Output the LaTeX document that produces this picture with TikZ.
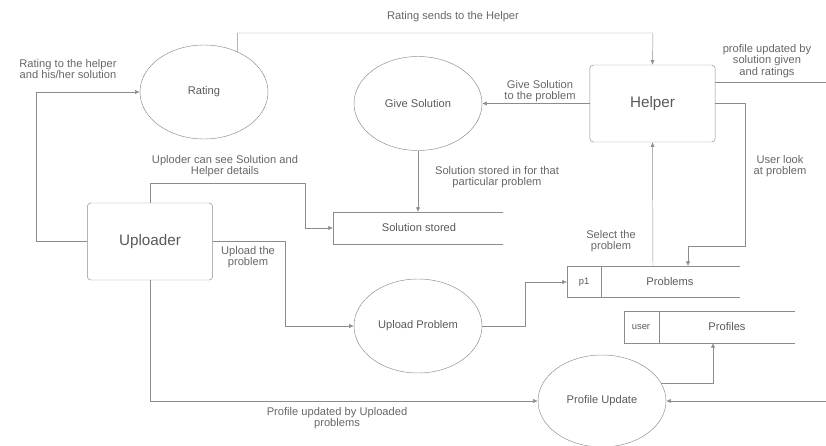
\documentclass[tikz,border=0pt]{standalone}
\usepackage{fontspec}
\setmainfont{Liberation Sans}
\usetikzlibrary{shapes.geometric,arrows.meta}
\tikzset{
	proc/.style={ellipse, draw=black!45, inner sep=0pt, minimum width=3.84cm, minimum height=2.82cm, font=\fontsize{9.5}{10}\selectfont, text=black!65},
	entity/.style={rectangle, rounded corners=3pt, draw=black!45, minimum width=3.76cm, minimum height=2.31cm, font=\fontsize{13}{13}\selectfont, text=black!65},
	flow/.style={draw=black!45, -{Latex[length=4pt,width=3.5pt]}},
	wire/.style={draw=black!45},
	lbl/.style={align=center, font=\fontsize{9.5}{9.5}\selectfont, text=black!60, inner sep=0pt},
	storetxt/.style={font=\fontsize{9.5}{10}\selectfont, text=black!65, inner sep=0pt},
	keytxt/.style={font=\fontsize{8}{8}\selectfont, text=black!65, inner sep=0pt}
}

\begin{document}
\begin{tikzpicture}[x=0.03cm, y=-0.03cm]
				%%%%% START %%%%%
				\useasboundingbox (0,0) rectangle (826,446);
				
				\node[proc] (rating) at (204,92) {Rating};
				\node[proc] (givesol) at (418,103.5) {Give Solution};
				\node[proc] (uploadp) at (418,326) {Upload Problem};
				\node[proc, minimum height=2.76cm] (profupd) at (602,401) {Profile Update};
				
				\node[entity] (helper) at (652.5,103.5) {Helper};
				\node[entity] (uploader) at (150,241.5) {Uploader};
				
				% data stores
				\draw[wire] (503,212) -- (333,212) -- (333,244) -- (503,244);
				\node[storetxt] (solstore) at (419,228) {Solution stored};
				\coordinate (solT) at (418,212);
				\coordinate (solL) at (333,228);
				
				\draw[wire] (740,266) -- (567,266) -- (567,297) -- (740,297);
				\draw[wire] (601,266) -- (601,297);
				\node[keytxt] (pone) at (584,282) {p1};
				\node[storetxt] (probstore) at (670,282) {Problems};
				\coordinate (probL) at (567,282);
				\coordinate (probT) at (653,266);
				\coordinate (probTb) at (688,266);
				
				\draw[wire] (795,311) -- (624,311) -- (624,343) -- (795,343);
				\draw[wire] (659,311) -- (659,343);
				\node[keytxt] (usr) at (641,327) {user};
				\node[storetxt] (profstore) at (727,327) {Profiles};
				\coordinate (profB) at (713,343);
				
				% flows
				\coordinate (rtop) at (653,33);
				\draw[flow] (rating.50) |- (rtop) -- (helper.north);
				\node[lbl] (l1) at (453,17) {Rating sends to the Helper};
				
				\coordinate (lcorner) at (36,92);
				\draw[flow] (uploader.west) -| (lcorner) -- (rating.west);
				\node[lbl] (l2) at (68,69) {Rating to the helper\\and his/her solution};
				
				\draw[flow] (helper.west) -- (givesol.east);
				\node[lbl] (l3) at (540,91) {Give Solution\\to the problem};
				
				\draw[flow] (givesol.south) -- (solT);
				\node[lbl] (l4) at (497,177) {Solution stored in for that\\particular problem};
				
				\coordinate (c5) at (305,183);
				\draw[flow] (uploader.north) |- (c5) |- (solL);
				\node[lbl] (l5) at (225,166) {Uploder can see Solution and\\Helper details};
				
				\coordinate (c6) at (285,326);
				\draw[flow] (uploader.east) -| (c6) -- (uploadp.west);
				\node[lbl] (l6) at (248,257) {Upload the\\problem};
				
				\coordinate (c7) at (525,282);
				\draw[flow] (uploadp.east) -| (c7) -- (probL);
				
				\draw[flow] (probT) -- (helper.south);
				\node[lbl] (l8) at (611,241) {Select the\\problem};
				
				\coordinate (c9) at (745,246);
				\draw[flow] (helper.east) -| (c9) -| (probTb);
				\node[lbl] (l9) at (780,166) {User look\\at problem};
				
				\coordinate (redgeA) at (826,82);
				\draw[wire] (helper.east |- redgeA) -- (redgeA);
				\node[lbl] (l10) at (767,61) {profile updated by\\solution given\\and ratings};
				
				\coordinate (redgeB) at (826,401);
				\draw[flow] (redgeB) -- (profupd.east);
				
				\draw[flow] (uploader.south) |- (profupd.west);
				\node[lbl] (l12) at (337,418) {Profile updated by Uploaded\\problems};
				
				\draw[flow] (profupd.17) -| (profB);
				%%%%% END %%%%%
\end{tikzpicture}
\end{document}
